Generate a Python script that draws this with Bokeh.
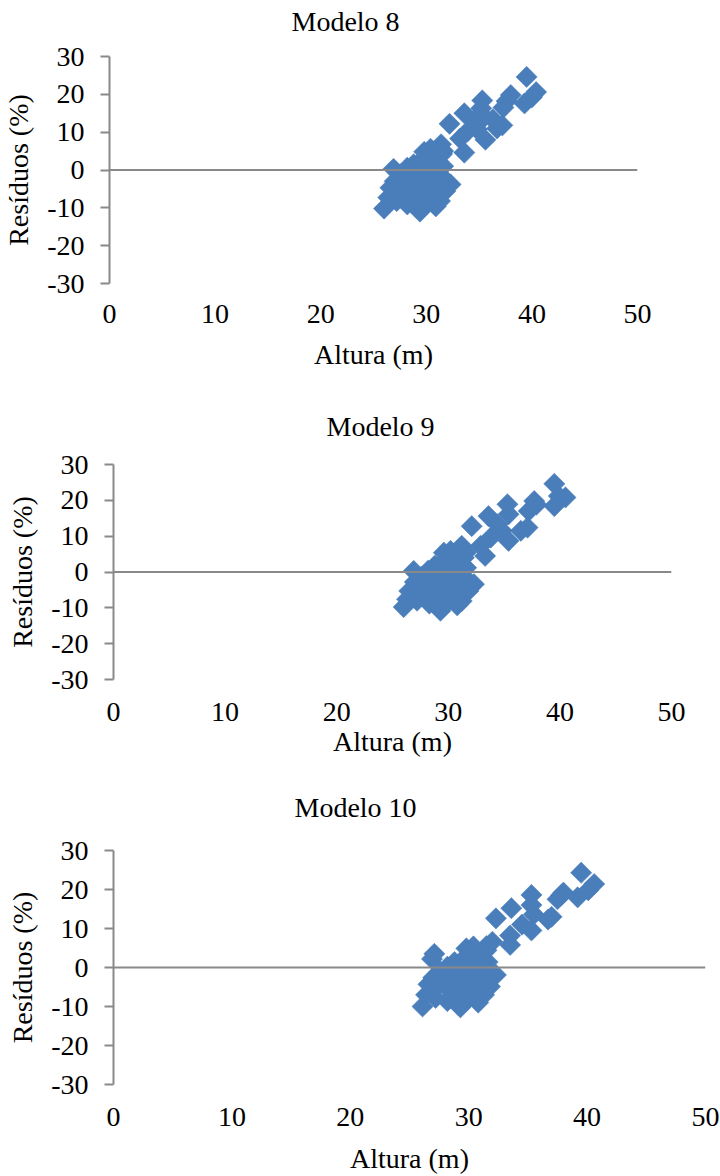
import math
from bokeh.plotting import figure
from bokeh.layouts import column
from bokeh.models import Range1d, FixedTicker, Span, Title
from bokeh.embed import file_html
from bokeh.resources import INLINE

FONT = "Liberation Serif"
titles = ["Modelo 8", "Modelo 9", "Modelo 10"]
x_label = "Altura (m)"
y_label = "Resíduos (%)"
x_ticks = [0, 10, 20, 30, 40, 50]
y_ticks = [-30, -20, -10, 0, 10, 20, 30]

altura_m8 = [39.5, 40.4, 40.0, 39.3, 38.0, 37.6, 37.3, 37.2, 36.7, 36.3, 35.3, 35.2, 35.5, 35.6, 34.8, 34.5,
             33.6, 33.9, 33.2, 33.6, 32.2, 31.4, 31.6,
             30.4, 29.8, 31.0, 30.2, 29.5, 31.5, 28.8, 28.2, 26.9, 27.6, 27.9, 28.8, 29.5, 30.1, 30.7, 31.0,
             30.1, 28.5, 27.2, 26.6, 26.4, 26.0, 27.2, 28.2, 29.1, 29.4, 30.9, 31.3, 31.8, 32.3, 30.5, 29.3,
             28.0, 29.0, 30.5, 31.3, 27.5, 30.9, 29.8, 28.6, 31.6, 30.0, 27.0, 29.9, 28.4]
residuo_m8 = [24.6, 20.6, 19.2, 17.6, 19.8, 18.2, 16.5, 11.8, 11.0, 13.4, 18.4, 16.3, 14.0, 8.0, 10.8, 13.0,
              15.0, 10.2, 8.3, 4.6, 12.2, 6.8, 5.0,
              5.6, 4.8, 2.4, 3.3, 2.4, 4.2, 1.5, 0.6, 0.3, -1.1, -3.8, -2.9, -5.6, -2.0, -0.3, -2.9,
              -7.3, -6.4, -5.6, -4.7, -7.3, -10.2, -8.2, -9.1, -10.0, -11.0, -9.6, -8.2, -5.6, -3.8, 0.8, -1.0,
              -5.0, -7.8, -4.5, -1.2, -2.5, -6.0, -9.0, -8.0, 1.0, 0.5, -3.0, -3.5, -1.8]

altura_m9 = [39.5, 40.5, 39.9, 39.5, 37.7, 37.2, 37.1, 36.5, 35.3, 35.4, 35.4, 34.8, 33.6, 32.1, 34.4, 33.8,
             33.3, 32.9, 31.2, 31.6, 37.9,
             30.2, 29.6, 30.8, 30.1, 29.4, 31.4, 28.8, 28.2, 26.9, 27.6, 27.9, 28.8, 29.5, 30.1, 30.7, 31.0,
             30.3, 28.5, 27.2, 26.5, 26.3, 26.0, 27.2, 28.3, 29.0, 29.3, 30.8, 31.2, 31.8, 32.3, 30.5, 29.3,
             28.0, 29.0, 30.5, 31.3, 27.5, 30.9, 29.8, 28.6, 31.6, 30.0, 27.0, 29.9, 28.4]
residuo_m9 = [24.6, 20.8, 21.2, 18.4, 19.8, 17.0, 12.4, 11.5, 18.9, 16.1, 8.7, 11.5, 15.6, 12.8, 13.3, 9.6,
              4.5, 7.3, 7.3, 5.5, 18.8,
              5.9, 5.4, 2.1, 3.6, 2.4, 4.0, 1.8, 0.4, 0.3, -1.3, -3.6, -2.7, -5.4, -1.8, -0.1, -2.7,
              -7.0, -6.2, -5.3, -5.3, -7.6, -9.8, -8.0, -8.8, -9.6, -10.8, -9.3, -8.1, -5.3, -3.4, 1.0, -0.8,
              -4.8, -7.5, -4.2, -1.0, -2.3, -5.8, -8.7, -7.8, 1.2, 0.7, -2.8, -3.3, -1.6]

altura_m10 = [39.5, 40.6, 40.1, 39.2, 38.0, 37.5, 37.0, 36.7, 35.3, 35.3, 35.5, 35.3, 34.5, 33.6, 32.3, 33.5,
              33.5, 32.0, 31.5, 37.8,
              30.4, 29.8, 27.1, 26.9, 31.0, 30.2, 29.5, 31.5, 28.8, 28.2, 27.6, 27.9, 28.8, 29.5, 30.1, 30.7,
              31.0, 30.1, 28.5, 27.2, 26.6, 26.4, 26.1, 27.2, 28.2, 29.1, 29.3, 30.8, 31.3, 31.8, 32.3, 30.5,
              29.3, 28.0, 29.0, 30.5, 31.3, 27.5, 30.9, 29.8, 28.6, 31.6, 30.0, 27.0, 29.9]
residuo_m10 = [24.3, 21.4, 19.8, 18.0, 19.2, 17.5, 13.0, 12.3, 18.6, 16.0, 13.6, 9.5, 11.0, 15.2, 12.6, 5.8,
               8.2, 6.6, 5.5, 18.5,
               5.4, 4.9, 3.5, 2.2, 2.6, 3.0, 2.0, 4.4, 1.4, 0.2, -1.0, -3.5, -2.6, -5.2, -1.6, 0.2,
               -2.5, -6.8, -6.0, -5.2, -4.3, -7.0, -10.0, -7.8, -8.6, -9.5, -10.2, -9.0, -7.0, -4.9, -1.9, 1.2,
               -0.6, -4.6, -7.4, -4.1, -0.8, -2.1, -5.5, -8.5, -7.6, 1.4, 0.9, -2.6, -3.1]

GRAY = "#898989"
BLUE = "#4A7EBB"
FS = "28px"


def make(title, xs, ys, height, left, right, top, bottom, t_offset, gap,
         tick_standoff, lab_standoff):
    p = figure(width=720, height=height, x_range=Range1d(0, 50), y_range=Range1d(-30, 30),
               output_backend="svg", toolbar_location=None, frame_align=False, title=None,
               min_border_left=left, min_border_right=right,
               min_border_top=top, min_border_bottom=bottom)
    # spacer between frame and title (inner panel), then the real title (outer panel)
    p.add_layout(Title(text=" ", text_font_size="2px", standoff=gap), "above")
    p.add_layout(Title(text=title, align="left", offset=t_offset, standoff=0,
                       text_font=FONT, text_font_size=FS, text_font_style="normal",
                       text_color="black"), "above")
    p.outline_line_color = None
    p.grid.visible = False
    p.background_fill_color = "white"
    p.border_fill_color = "white"

    p.add_layout(Span(location=0, dimension="width", line_color=GRAY, line_width=2))

    p.scatter(xs, ys, marker="square", size=15, angle=math.pi / 4,
              fill_color=BLUE, line_color=BLUE, line_width=0.5)

    xa = p.xaxis[0]
    xa.ticker = FixedTicker(ticks=x_ticks)
    xa.axis_line_color = None
    xa.major_tick_line_color = None
    xa.minor_tick_line_color = None
    xa.major_tick_out = 0
    xa.major_label_standoff = tick_standoff
    xa.major_label_text_font = FONT
    xa.major_label_text_font_size = FS
    xa.major_label_text_color = "black"
    xa.axis_label = x_label
    xa.axis_label_text_font = FONT
    xa.axis_label_text_font_size = FS
    xa.axis_label_text_font_style = "normal"
    xa.axis_label_text_color = "black"
    xa.axis_label_standoff = lab_standoff

    ya = p.yaxis[0]
    ya.ticker = FixedTicker(ticks=y_ticks)
    ya.major_label_overrides = {t: str(t) for t in y_ticks}
    ya.axis_line_color = GRAY
    ya.axis_line_width = 2
    ya.major_tick_line_color = GRAY
    ya.major_tick_line_width = 2
    ya.major_tick_in = 0
    ya.major_tick_out = 9
    ya.minor_tick_line_color = None
    ya.major_label_standoff = 16
    ya.major_label_text_font = FONT
    ya.major_label_text_font_size = FS
    ya.major_label_text_color = "black"
    ya.axis_label = y_label
    ya.axis_label_text_font = FONT
    ya.axis_label_text_font_size = FS
    ya.axis_label_text_font_style = "normal"
    ya.axis_label_text_color = "black"
    ya.axis_label_standoff = 10
    return p


p1 = make(titles[0], altura_m8, residuo_m8, 390, 109, 83, 56, 107, 182, 16, 21, 13)
p2 = make(titles[1], altura_m9, residuo_m9, 390, 113, 49, 74, 101, 213, 19, 23, 2)
p3 = make(titles[2], altura_m10, residuo_m10, 396, 113, 15, 70, 90, 181, 24, 23, 14)

layout = column(p1, p2, p3, spacing=0)
open("out.html", "w").write(file_html(layout, INLINE))
